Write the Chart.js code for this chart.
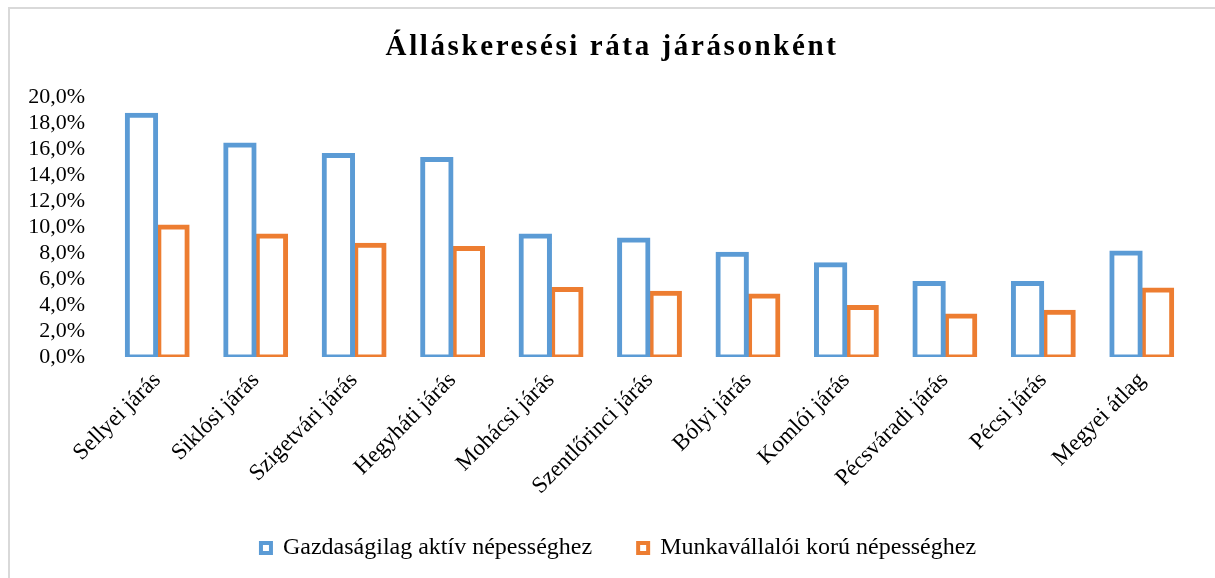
<!DOCTYPE html>
<html>
<head>
    <title>Álláskeresési ráta járásonként</title>
    <meta charset="utf-8">
    <script src="https://cdn.jsdelivr.net/npm/chart.js"></script>
<style>
  body{
    margin: 0;
    background: white;
  }
  #wrap{
    width: 1215px;
    height: 578px;
  }
</style>
</head>
<body>
    <div id="wrap"><canvas id="chart"></canvas></div>

    <script>
        const titleText = 'Álláskeresési ráta járásonként';
        const categories = ['Sellyei járás', 'Siklósi járás', 'Szigetvári járás', 'Hegyháti járás', 'Mohácsi járás',
            'Szentlőrinci járás', 'Bólyi járás', 'Komlói járás', 'Pécsváradi járás', 'Pécsi járás', 'Megyei átlag'];
        const seriesNames = ['Gazdaságilag aktív népességhez', 'Munkavállalói korú népességhez'];
        const activeRate = [18.6, 16.3, 15.5, 15.2, 9.3, 9.0, 7.9, 7.1, 5.65, 5.65, 8.0];
        const workingAgeRate = [10.0, 9.3, 8.6, 8.35, 5.2, 4.9, 4.7, 3.8, 3.15, 3.45, 5.15];
        const yTicks = [0, 2, 4, 6, 8, 10, 12, 14, 16, 18, 20];

        const serif = "'Liberation Serif', 'Times New Roman', serif";

        // Excel style frame (top and left edge only) and letter spaced title
        const framePlugin = {
            id: 'frame',
            afterLayout(chart) {
                // legend sits a bit right of centre in the original
                chart.legend.left += 36;
            },
            beforeDraw(chart) {
                const c = chart.ctx;
                c.save();
                c.fillStyle = 'white';
                c.fillRect(0, 0, chart.width, chart.height);
                c.strokeStyle = '#d9d9d9';
                c.lineWidth = 2;
                c.beginPath();
                c.moveTo(9, chart.height);
                c.lineTo(9, 8);
                c.lineTo(chart.width, 8);
                c.stroke();
                c.restore();
            },
            afterDraw(chart) {
                const c = chart.ctx;
                c.save();
                c.font = 'bold 29px ' + serif;
                c.letterSpacing = '2.6px';
                c.fillStyle = 'black';
                c.textAlign = 'center';
                c.textBaseline = 'middle';
                c.fillText(titleText, 612, 48);
                c.restore();
            }
        };

        const chart = new Chart(document.getElementById('chart'), {
            type: 'bar',
            data: {
                labels: categories,
                datasets: [{
                    label: seriesNames[0],
                    data: activeRate,
                    borderColor: '#5b9bd5',
                    backgroundColor: 'white',
                    borderWidth: 5,
                    borderSkipped: false,
                    inflateAmount: 2.5
                }, {
                    label: seriesNames[1],
                    data: workingAgeRate,
                    borderColor: '#ed7d31',
                    backgroundColor: 'white',
                    borderWidth: 5,
                    borderSkipped: false,
                    inflateAmount: 2.5
                }]
            },
            options: {
                responsive: true,
                maintainAspectRatio: false,
                animation: false,
                layout: {
                    padding: { top: 97, left: 10, right: 24, bottom: 8 }
                },
                datasets: {
                    bar: {
                        categoryPercentage: 0.64,
                        barPercentage: 0.9
                    }
                },
                scales: {
                    x: {
                        grid: { display: false },
                        border: { display: false },
                        ticks: {
                            color: 'black',
                            minRotation: 45,
                            maxRotation: 45,
                            padding: 2,
                            font: { family: serif, size: 23 }
                        },
                        afterFit(scale) { scale.height = 169; }
                    },
                    y: {
                        min: 0,
                        max: 20,
                        grid: { display: false },
                        border: { display: false },
                        afterBuildTicks(scale) {
                            scale.ticks = yTicks.map(v => ({ value: v }));
                        },
                        ticks: {
                            color: 'black',
                            autoSkip: false,
                            padding: 15,
                            font: { family: serif, size: 22 },
                            callback: v => v.toFixed(1).replace('.', ',') + '%'
                        },
                        afterFit(scale) { scale.width = 98; }
                    }
                },
                plugins: {
                    title: { display: false },
                    tooltip: { enabled: false },
                    legend: {
                        position: 'bottom',
                        labels: {
                            color: 'black',
                            boxWidth: 10,
                            boxHeight: 10,
                            padding: 10,
                            font: { family: serif, size: 24 },
                            generateLabels(chart) {
                                const items = Chart.defaults.plugins.legend.labels.generateLabels(chart);
                                items.forEach((item, i) => {
                                    item.fillStyle = 'white';
                                    item.lineWidth = 4;
                                    if (i === 0) item.text = item.text + ' '.repeat(6);
                                });
                                return items;
                            }
                        }
                    }
                }
            },
            plugins: [framePlugin]
        });
    </script>
</body>
</html>
